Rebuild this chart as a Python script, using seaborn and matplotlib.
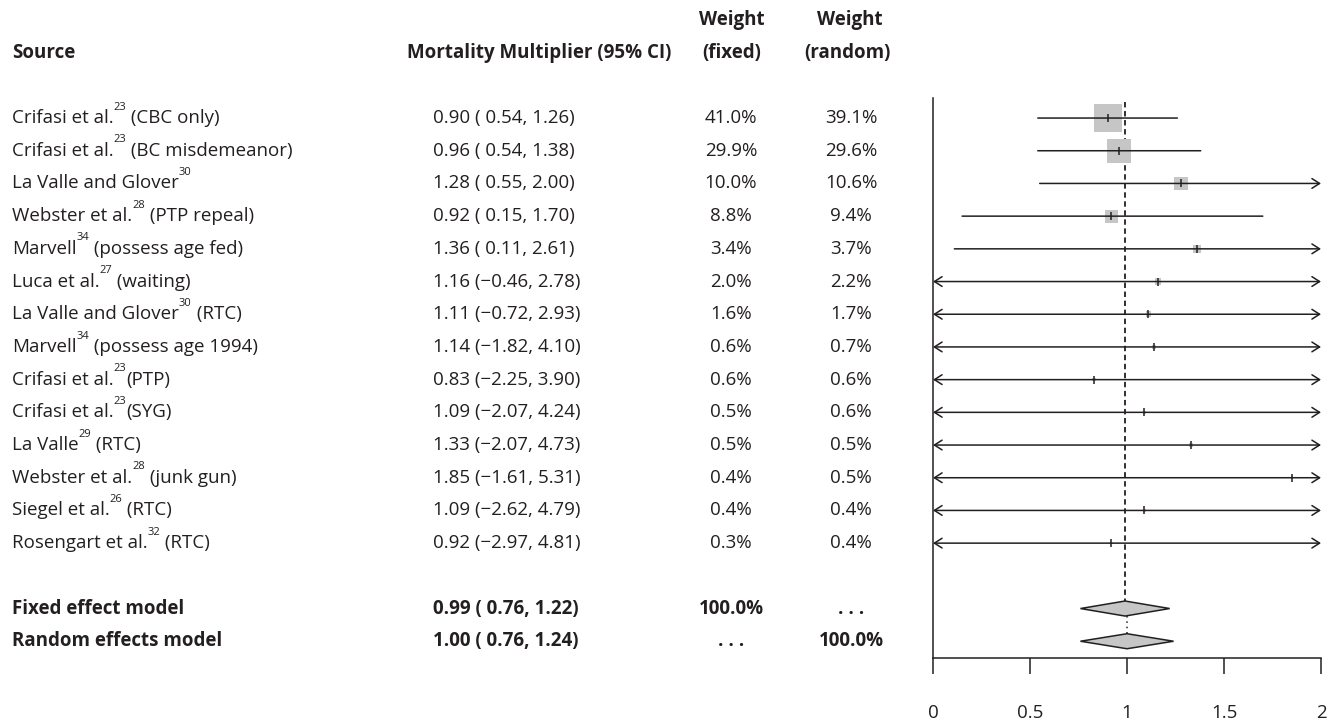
import numpy as np
import matplotlib
matplotlib.use("Agg")
import matplotlib.pyplot as plt
import seaborn as sns
from matplotlib.transforms import blended_transform_factory

# study rows
authors = ["Crifasi et al.", "Crifasi et al.", "La Valle and Glover", "Webster et al.",
           "Marvell", "Luca et al.", "La Valle and Glover", "Marvell", "Crifasi et al.",
           "Crifasi et al.", "La Valle", "Webster et al.", "Siegel et al.", "Rosengart et al."]
refs = ["23", "23", "30", "28", "34", "27", "30", "34", "23", "23", "29", "28", "26", "32"]
notes = [" (CBC only)", " (BC misdemeanor)", "", " (PTP repeal)", " (possess age fed)",
         " (waiting)", " (RTC)", " (possess age 1994)", "(PTP)", "(SYG)", " (RTC)",
         " (junk gun)", " (RTC)", " (RTC)"]
est = [0.90, 0.96, 1.28, 0.92, 1.36, 1.16, 1.11, 1.14, 0.83, 1.09, 1.33, 1.85, 1.09, 0.92]
lo = [0.54, 0.54, 0.55, 0.15, 0.11, -0.46, -0.72, -1.82, -2.25, -2.07, -2.07, -1.61, -2.62, -2.97]
hi = [1.26, 1.38, 2.00, 1.70, 2.61, 2.78, 2.93, 4.10, 3.90, 4.24, 4.73, 5.31, 4.79, 4.81]
w_fixed = [41.0, 29.9, 10.0, 8.8, 3.4, 2.0, 1.6, 0.6, 0.6, 0.5, 0.5, 0.4, 0.4, 0.3]
w_random = [39.1, 29.6, 10.6, 9.4, 3.7, 2.2, 1.7, 0.7, 0.6, 0.6, 0.5, 0.5, 0.4, 0.4]

# pooled models
models = ["Fixed effect model", "Random effects model"]
m_est = [0.99, 1.00]
m_lo = [0.76, 0.76]
m_hi = [1.22, 1.24]
m_w_fixed = ["100.0%", ". . ."]
m_w_random = [". . .", "100.0%"]

xticks = [0, 0.5, 1, 1.5, 2]
xticklabels = ["0", "0.5", "1", "1.5", "2"]

sns.set_style("white")
plt.rcParams["font.family"] = ["Open Sans", "DejaVu Sans"]
ink = "#231f20"
grey = "#c6c6c6"
fs = 13.5

W, H = 1332, 722
fig = plt.figure(figsize=(W / 100, H / 100), dpi=100)
ax = fig.add_axes([933 / W, 0, (1321 - 933) / W, 1])
ax.set_xlim(0, 2)
ax.set_ylim(18.47, -3.61)
tr = blended_transform_factory(fig.transFigure, ax.transData)


def fx(p):
    return p / W


def ci_text(e, l, h):
    ls = f" {l:.2f}" if l >= 0 else f"\u2212{abs(l):.2f}"
    return f"{e:.2f} ({ls}, {h:.2f})"


rows = np.arange(len(authors))
my = len(authors) + 1 + np.arange(len(models))

# headers
ax.text(fx(12), -2, "Source", transform=tr, va="center", ha="left", fontsize=fs, weight="bold", color=ink)
ax.text(fx(539), -2, "Mortality Multiplier (95% CI)", transform=tr, va="center", ha="center",
        fontsize=fs, weight="bold", color=ink)
ax.text(fx(732), -3, "Weight", transform=tr, va="center", ha="center", fontsize=fs, weight="bold", color=ink)
ax.text(fx(732), -2, "(fixed)", transform=tr, va="center", ha="center", fontsize=fs, weight="bold", color=ink)
ax.text(fx(850), -3, "Weight", transform=tr, va="center", ha="center", fontsize=fs, weight="bold", color=ink)
ax.text(fx(847), -2, "(random)", transform=tr, va="center", ha="center", fontsize=fs, weight="bold", color=ink)

# study text columns
for y, a, r, n, e, l, h, wf, wr in zip(rows, authors, refs, notes, est, lo, hi, w_fixed, w_random):
    t = ax.text(fx(12), y, a, transform=tr, va="center", ha="left", fontsize=fs, color=ink)
    s = ax.annotate(r, xy=(1.0, 0.8), xycoords=t, va="bottom", ha="left", fontsize=8, color=ink)
    ax.annotate(n, xy=(1.0, 0.0), xycoords=(s, t), va="bottom", ha="left", fontsize=fs, color=ink)
    ax.text(fx(433), y, ci_text(e, l, h), transform=tr, va="center", ha="left", fontsize=fs, color=ink)
    ax.text(fx(731), y, f"{wf:.1f}%", transform=tr, va="center", ha="center", fontsize=fs, color=ink)
    ax.text(fx(851), y, f"{wr:.1f}%", transform=tr, va="center", ha="center", fontsize=fs, color=ink)

for y, m, e, l, h, wf, wr in zip(my, models, m_est, m_lo, m_hi, m_w_fixed, m_w_random):
    ax.text(fx(12), y, m, transform=tr, va="center", ha="left", fontsize=fs, weight="bold", color=ink)
    ax.text(fx(433), y, ci_text(e, l, h), transform=tr, va="center", ha="left", fontsize=fs,
            weight="bold", color=ink)
    ax.text(fx(731), y, wf, transform=tr, va="center", ha="center", fontsize=fs, weight="bold", color=ink)
    ax.text(fx(851), y, wr, transform=tr, va="center", ha="center", fontsize=fs, weight="bold", color=ink)

# reference lines: dashed at fixed estimate, dotted between diamonds at random estimate
dh = 0.23
ax.vlines(m_est[0], -0.5, my[0] - dh, colors=ink, linewidth=1.3, linestyles=(0, (3, 2)), zorder=1)
ax.vlines(m_est[1], my[0] + dh, my[1] - dh, colors=ink, linewidth=1.1, linestyles=(0, (1, 2.5)), zorder=1)

# weight squares
side = 20.2  # points for the 41% study
sizes = [side ** 2 * w / max(w_fixed) for w in w_fixed]
sns.scatterplot(x=est, y=rows, marker="s", s=sizes, color=grey, edgecolor="none", linewidth=0,
                ax=ax, zorder=2, legend=False)

# CI lines with arrows when clipped
for y, l, h in zip(rows, lo, hi):
    style = ("<" if l < 0 else "") + "-" + (">" if h >= 2 else "")
    if style != "-":
        style += ",head_length=0.55,head_width=0.35"
    ax.annotate("", xy=(min(h, 2), y), xytext=(max(l, 0), y),
                arrowprops=dict(arrowstyle=style, color=ink, lw=1.1, shrinkA=0, shrinkB=0,
                                mutation_scale=10),
                zorder=3)

sns.scatterplot(x=est, y=rows, marker="|", s=40, color=ink, linewidth=1.1, ax=ax, zorder=4, legend=False)

# diamonds
for y, e, l, h in zip(my, m_est, m_lo, m_hi):
    ax.fill([l, e, h, e], [y, y - dh, y, y + dh], facecolor=grey, edgecolor=ink, linewidth=1.1, zorder=3)

# axes styling
sns.despine(ax=ax, top=True, right=True)
ax.spines["left"].set_bounds(-0.6, 16.5)
ax.spines["left"].set_linewidth(1.1)
ax.spines["left"].set_color(ink)
ax.spines["bottom"].set_position(("data", 16.5))
ax.spines["bottom"].set_bounds(0, 2)
ax.spines["bottom"].set_linewidth(1.1)
ax.spines["bottom"].set_color(ink)
ax.set_xticks(xticks)
ax.set_xticklabels(xticklabels)
ax.set_yticks([])
ax.set_xlabel("")
ax.set_ylabel("")
ax.tick_params(axis="x", direction="out", length=11.5, width=1.1, color=ink, pad=22,
               labelsize=fs, labelcolor=ink, bottom=True)
ax.patch.set_alpha(0)

fig.savefig("out.png", dpi=100)
